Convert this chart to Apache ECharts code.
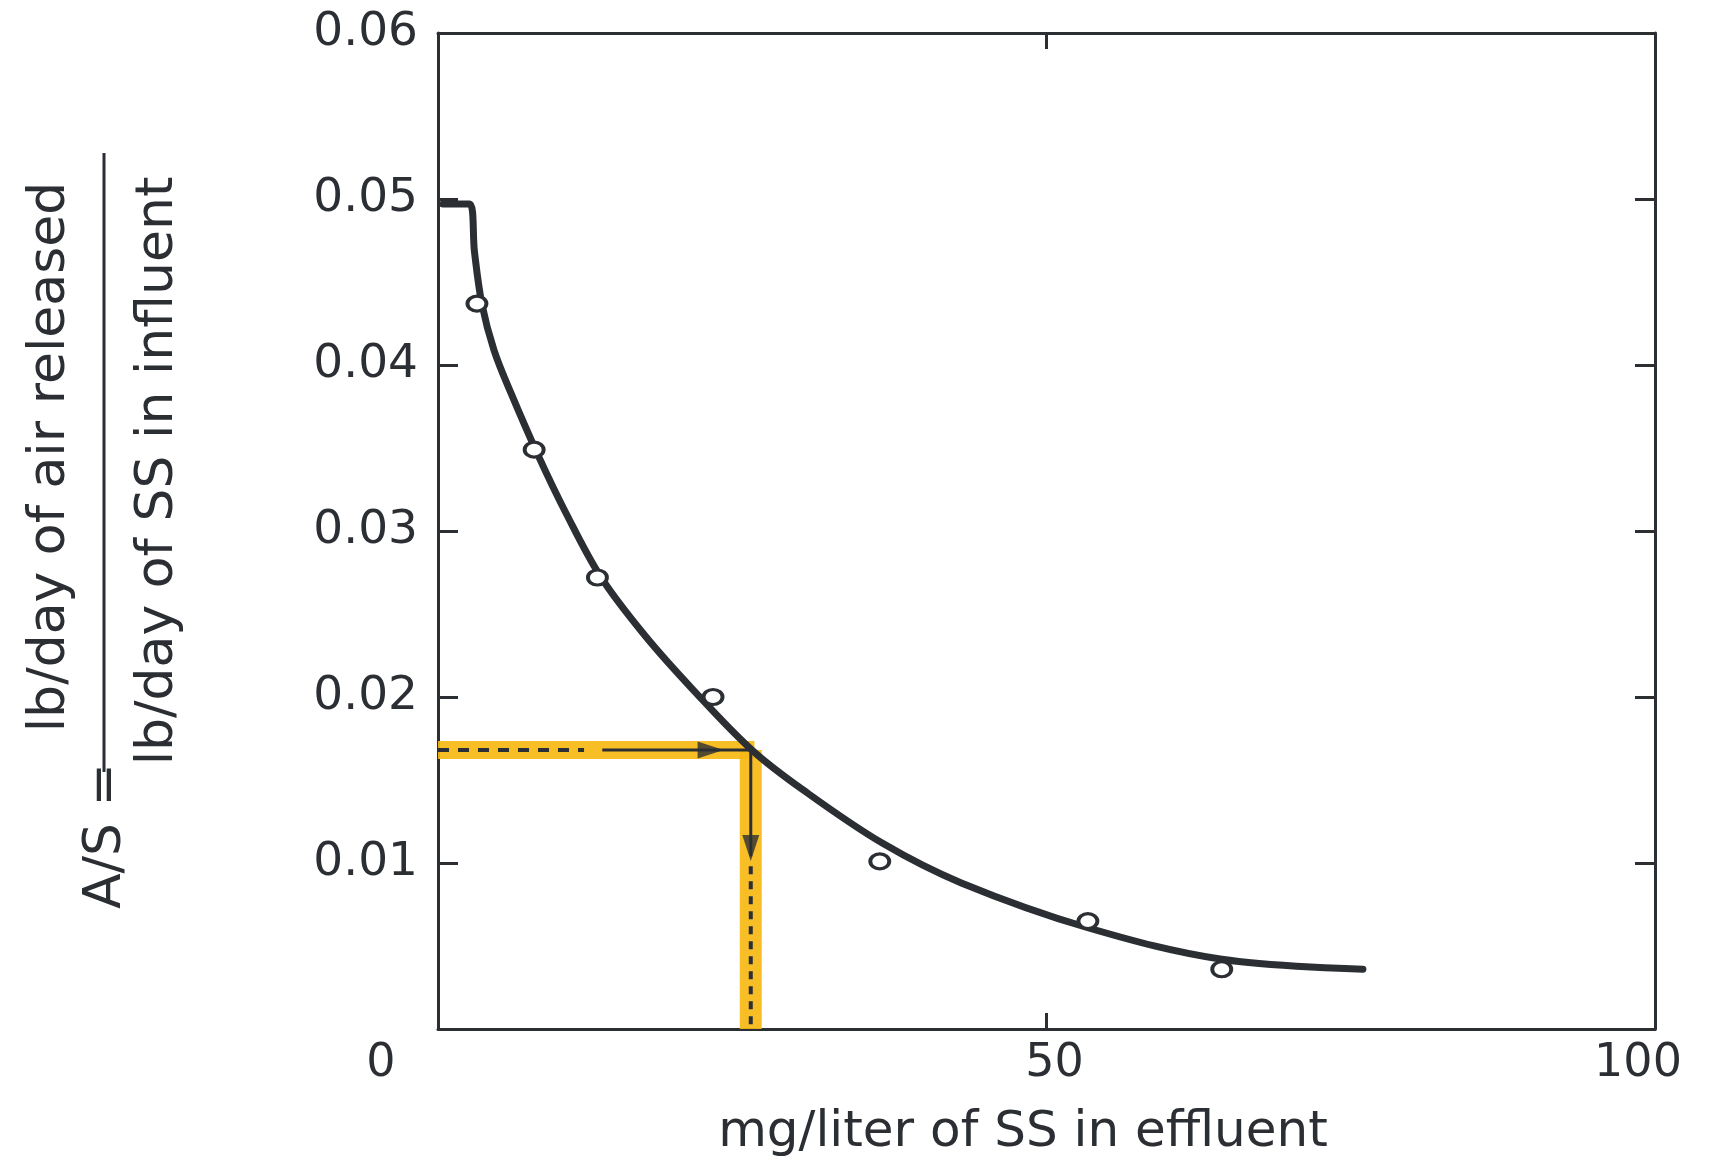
<!DOCTYPE html>
<html>
<head>
<meta charset="utf-8">
<script src="https://cdn.jsdelivr.net/npm/echarts@6/dist/echarts.min.js"></script>
<style>
  html, body { margin: 0; padding: 0; background: #ffffff; }
  #chart { width: 1716px; height: 1161px; }
</style>
</head>
<body>
<div id="chart"></div>
<script>
// ---- data ----
const xTicks = [0, 50, 100];
const yTicks = [0.01, 0.02, 0.03, 0.04, 0.05, 0.06];

// measured points (open circles)
const pointSS = [3.2, 7.9, 13.1, 22.6, 36.3, 53.4, 64.4];
const pointAS = [0.0437, 0.0349, 0.0272, 0.0200, 0.0101, 0.0065, 0.0036];

// fitted curve drawn through the points
const curveSS = [0.4, 2.6, 3.0, 3.6, 4.6, 6.0, 8.2, 10.5, 13.4, 17, 21, 25.8, 30, 36.5, 43, 53.4, 64.4, 76];
const curveAS = [0.0497, 0.0497, 0.0468, 0.0437, 0.0409, 0.0383, 0.0346, 0.0311, 0.0272, 0.0237, 0.0204, 0.0168, 0.0144, 0.0112, 0.0088, 0.0061, 0.0042, 0.0036];

// read-off construction (highlighted)
const readAS = 0.0168;
const readSS = 25.7;
const dashEndSS = 12;      // end of dashed part of horizontal guide
const solidStartSS = 13.5; // start of solid part of horizontal guide
const arrowRightSS = 22.4;
const arrowDownAS = 0.0109;
const vSolidEndAS = 0.0104;
const vDashStartAS = 0.0098;

const INK = '#2b2f34';
const YELLOW = 'rgba(246,184,20,0.92)';
const FONT = '"DejaVu Sans", "Noto Sans", sans-serif';

const curveData = curveSS.map((x, i) => [x, curveAS[i]]);
const pointData = pointSS.map((x, i) => [x, pointAS[i]]);

const chart = echarts.init(document.getElementById('chart'), null, { renderer: 'canvas' });

const axisLine = { show: true, onZero: false, lineStyle: { color: INK, width: 3 } };

const option = {
  backgroundColor: '#ffffff',
  animation: false,
  grid: { left: 438, right: 61, top: 33, bottom: 132, containLabel: false },
  xAxis: [
    {
      type: 'value', position: 'bottom', min: 0, max: 100, interval: 50,
      axisLine: axisLine,
      axisTick: { show: true, inside: true, length: 16, lineStyle: { color: INK, width: 3 } },
      splitLine: { show: false },
      axisLabel: {
        margin: 12,
        formatter: v => v === 0 ? '{a|0}' : (v === 100 ? '{c|100}' : '{b|50}'),
        rich: {
          a: { fontSize: 46, fontFamily: FONT, color: INK, padding: [0, 114, 0, 0] },
          b: { fontSize: 46, fontFamily: FONT, color: INK, padding: [0, 0, 0, 16] },
          c: { fontSize: 46, fontFamily: FONT, color: INK, padding: [0, 34, 0, 0] }
        }
      }
    },
    {
      type: 'value', position: 'top', min: 0, max: 100, interval: 50,
      axisLine: axisLine,
      axisTick: { show: true, inside: true, length: 16, lineStyle: { color: INK, width: 3 } },
      splitLine: { show: false },
      axisLabel: { show: false }
    }
  ],
  yAxis: [
    {
      type: 'value', position: 'left', min: 0, max: 0.06, interval: 0.01,
      axisLine: axisLine,
      axisTick: { show: true, inside: true, length: 20, lineStyle: { color: INK, width: 3 } },
      splitLine: { show: false },
      axisLabel: {
        margin: 20, fontSize: 47, fontFamily: FONT, color: INK,
        formatter: v => yTicks.some(t => Math.abs(t - v) < 1e-9) ? v.toFixed(2) : ''
      }
    },
    {
      type: 'value', position: 'right', min: 0, max: 0.06, interval: 0.01,
      axisLine: axisLine,
      axisTick: { show: true, inside: true, length: 20, lineStyle: { color: INK, width: 3 } },
      splitLine: { show: false },
      axisLabel: { show: false }
    }
  ],
  graphic: [
    {
      type: 'text', x: 50, y: 457, rotation: Math.PI / 2,
      style: { text: 'lb/day of air released', fontSize: 52, fontFamily: FONT, fill: INK,
               align: 'center', verticalAlign: 'middle', textAlign: 'center', textVerticalAlign: 'middle' }
    },
    {
      type: 'line', shape: { x1: 104, y1: 153, x2: 104, y2: 772 },
      style: { stroke: INK, lineWidth: 3 }
    },
    {
      type: 'text', x: 158, y: 471, rotation: Math.PI / 2,
      style: { text: 'lb/day of SS in influent', fontSize: 52, fontFamily: FONT, fill: INK,
               align: 'center', verticalAlign: 'middle', textAlign: 'center', textVerticalAlign: 'middle' }
    },
    {
      type: 'text', x: 106, y: 836, rotation: Math.PI / 2,
      style: { text: 'A/S =', fontSize: 52, fontFamily: FONT, fill: INK,
               align: 'center', verticalAlign: 'middle', textAlign: 'center', textVerticalAlign: 'middle' }
    },
    {
      type: 'text', x: 1023, y: 1133,
      style: { text: 'mg/liter of SS in effluent', fontSize: 50, fontFamily: FONT, fill: INK,
               align: 'center', verticalAlign: 'middle', textAlign: 'center', textVerticalAlign: 'middle' }
    }
  ],
  series: [
    // yellow highlighter bands
    {
      type: 'line', xAxisIndex: 0, yAxisIndex: 0, symbol: 'none', silent: true, z: 1,
      data: [[0, readAS], [readSS + 0.3, readAS]],
      lineStyle: { color: YELLOW, width: 18, cap: 'butt' }
    },
    {
      type: 'line', xAxisIndex: 0, yAxisIndex: 0, symbol: 'none', silent: true, z: 1,
      data: [[readSS, readAS], [readSS, 0]],
      lineStyle: { color: YELLOW, width: 22, cap: 'butt' }
    },
    // black horizontal guide: dashed then solid with arrow
    {
      type: 'line', symbol: 'none', silent: true, z: 3,
      data: [[0, readAS], [dashEndSS, readAS]],
      lineStyle: { color: INK, width: 4, type: [11, 9] }
    },
    {
      type: 'line', symbol: 'none', silent: true, z: 3,
      data: [[solidStartSS, readAS], [readSS, readAS]],
      lineStyle: { color: INK, width: 3 }
    },
    // black vertical guide: solid with arrow then dashed
    {
      type: 'line', symbol: 'none', silent: true, z: 3,
      data: [[readSS, readAS], [readSS, vSolidEndAS]],
      lineStyle: { color: INK, width: 3 }
    },
    {
      type: 'line', symbol: 'none', silent: true, z: 3,
      data: [[readSS, vDashStartAS], [readSS, 0]],
      lineStyle: { color: INK, width: 4, type: [8, 7] }
    },
    // arrow heads
    {
      type: 'scatter', silent: true, z: 4,
      data: [
        { value: [arrowRightSS, readAS], symbolRotate: -90 },
        { value: [readSS, arrowDownAS], symbolRotate: 180 }
      ],
      symbol: 'triangle', symbolSize: [17, 26],
      itemStyle: { color: INK }
    },
    // fitted curve
    {
      type: 'line', symbol: 'none', silent: true, z: 5,
      data: curveData, smooth: 0.35,
      lineStyle: { color: INK, width: 7, cap: 'round', join: 'round' }
    },
    // data points: open circles
    {
      type: 'scatter', z: 6,
      data: pointData, symbol: 'circle', symbolSize: [19, 15],
      itemStyle: { color: '#ffffff', borderColor: INK, borderWidth: 3.5, opacity: 1 }
    }
  ]
};

chart.setOption(option);
</script>
</body>
</html>
